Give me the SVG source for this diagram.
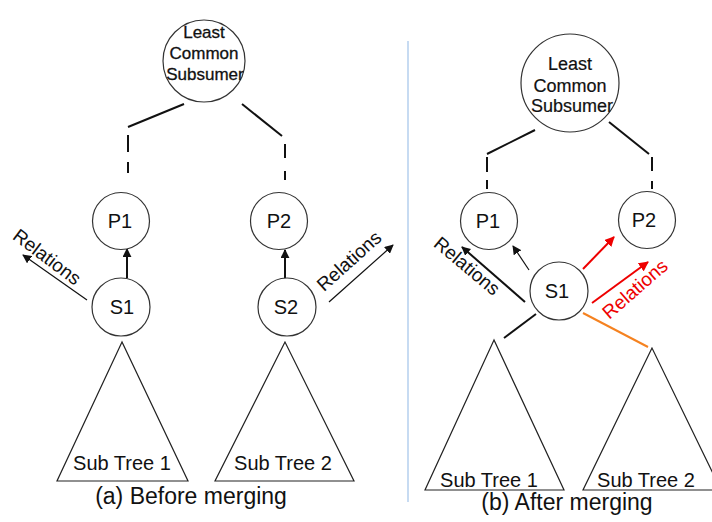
<svg xmlns="http://www.w3.org/2000/svg" width="712" height="522" viewBox="0 0 712 522">
<style>
  .node { fill: #fff; stroke: #333; stroke-width: 1.2; }
  .tri { fill: #fff; stroke: #222; stroke-width: 1.2; }
  .lbl { font-family: "Liberation Sans", Arial, sans-serif; font-size: 20px; fill: #111; text-anchor: middle; }
  .lcs { font-family: "Liberation Sans", Arial, sans-serif; font-size: 17px; fill: #111; text-anchor: middle; stroke: #111; stroke-width: 0.3; }
  .rel { font-family: "Liberation Sans", Arial, sans-serif; font-size: 19px; fill: #111; text-anchor: middle; dominant-baseline: central; }
  .cap { font-family: "Liberation Sans", Arial, sans-serif; font-size: 23px; fill: #111; text-anchor: middle; }
  .link { stroke: #111; stroke-width: 2; fill: none; }
  .thin { stroke: #111; stroke-width: 1.2; fill: none; }
  .red { stroke: #ee0000; stroke-width: 2; fill: none; }
</style>
<defs>
  <marker id="ahL" viewBox="0 0 10 10" refX="9" refY="5" markerWidth="9" markerHeight="9" orient="auto" markerUnits="userSpaceOnUse">
    <path d="M0,0 L10,5 L0,10 z" fill="#111"/>
  </marker>
  <marker id="ahR" viewBox="0 0 10 10" refX="9" refY="5" markerWidth="10" markerHeight="10" orient="auto" markerUnits="userSpaceOnUse">
    <path d="M0,0 L10,5 L0,10 z" fill="#ee0000"/>
  </marker>
</defs>

<!-- divider -->
<line x1="408" y1="41" x2="408" y2="502" stroke="#b4cfee" stroke-width="1.5"/>

<g id="connectors">
  <!-- left panel -->
  <line class="link" x1="184" y1="104" x2="128" y2="127"/>
  <line class="link" x1="128" y1="135" x2="128" y2="152"/>
  <line class="link" x1="128" y1="162" x2="128" y2="173"/>
  <line class="link" x1="242" y1="104" x2="282" y2="136"/>
  <line class="link" x1="285" y1="144" x2="285" y2="158"/>
  <line class="link" x1="285" y1="171" x2="285" y2="180"/>
  <line class="link" x1="127" y1="278" x2="127" y2="249" marker-end="url(#ahL)"/>
  <line class="link" x1="285" y1="278" x2="285" y2="250" marker-end="url(#ahL)"/>
  <line class="thin" x1="87" y1="300" x2="23" y2="255" marker-end="url(#ahL)"/>
  <line class="thin" x1="329" y1="302" x2="393" y2="245" marker-end="url(#ahL)"/>

  <!-- right panel -->
  <line class="link" x1="535" y1="130" x2="487" y2="154"/>
  <line class="link" x1="487" y1="157" x2="487" y2="172"/>
  <line class="link" x1="487" y1="180" x2="487" y2="189"/>
  <line class="link" x1="609" y1="122" x2="649" y2="154"/>
  <line class="link" x1="652" y1="157" x2="652" y2="171"/>
  <line class="link" x1="652" y1="181" x2="652" y2="189"/>
  <line class="thin" x1="529" y1="270" x2="513" y2="246" marker-end="url(#ahL)"/>
  <line class="link" x1="525" y1="302" x2="462" y2="247" marker-end="url(#ahL)"/>
  <line class="link" x1="536" y1="314" x2="504" y2="338"/>
  <line class="red" x1="583" y1="269" x2="614" y2="237" marker-end="url(#ahR)"/>
  <line class="red" x1="592" y1="303" x2="648" y2="262" marker-end="url(#ahR)"/>
  <line x1="583" y1="313" x2="648" y2="347" stroke="#f58220" stroke-width="2"/>
</g>

<!-- left panel nodes -->
<g id="lcs-a">
  <circle class="node" cx="204" cy="61" r="41"/>
  <text class="lcs" x="204" y="38">Least</text>
  <text class="lcs" x="204" y="59">Common</text>
  <text class="lcs" x="205" y="80">Subsumer</text>
</g>
<g id="p1-a">
  <circle class="node" cx="121" cy="221" r="28.5"/>
  <text class="lbl" x="120" y="228">P1</text>
</g>
<g id="p2-a">
  <circle class="node" cx="279" cy="221" r="28.5"/>
  <text class="lbl" x="279" y="228">P2</text>
</g>
<g id="s1-a">
  <circle class="node" cx="121" cy="307" r="29"/>
  <text class="lbl" x="122" y="314">S1</text>
</g>
<g id="s2-a">
  <circle class="node" cx="287" cy="307" r="29"/>
  <text class="lbl" x="286" y="314">S2</text>
</g>
<g id="subtree1-a">
  <polygon class="tri" points="122,342 57,481 188,481"/>
  <text class="lbl" x="122" y="470">Sub Tree 1</text>
</g>
<g id="subtree2-a">
  <polygon class="tri" points="285,342 215,481 354,481"/>
  <text class="lbl" x="283" y="470">Sub Tree 2</text>
</g>
<text class="rel" transform="translate(47,257) rotate(37)">Relations</text>
<text class="rel" transform="translate(349,261) rotate(-42)">Relations</text>
<text class="cap" x="191" y="504">(a) Before merging</text>

<!-- right panel nodes -->
<g id="lcs-b">
  <circle class="node" cx="570" cy="83" r="49"/>
  <text class="lcs" x="570" y="70" style="font-size:18px;stroke-width:0.2">Least</text>
  <text class="lcs" x="570" y="92" style="font-size:18px;stroke-width:0.2">Common</text>
  <text class="lcs" x="572" y="112" style="font-size:18px;stroke-width:0.2">Subsumer</text>
</g>
<g id="p1-b">
  <circle class="node" cx="489" cy="221" r="28.5"/>
  <text class="lbl" x="488" y="228">P1</text>
</g>
<g id="p2-b">
  <circle class="node" cx="647" cy="220" r="28.5"/>
  <text class="lbl" x="644" y="227">P2</text>
</g>
<g id="s1-b">
  <circle class="node" cx="559" cy="291" r="29"/>
  <text class="lbl" x="557" y="298">S1</text>
</g>
<g id="subtree1-b">
  <polygon class="tri" points="494,340 425,490 564,490"/>
  <text class="lbl" x="489" y="487">Sub Tree 1</text>
</g>
<g id="subtree2-b">
  <polygon class="tri" points="652,348 583,490 721,490"/>
  <text class="lbl" x="646" y="487">Sub Tree 2</text>
</g>
<text class="rel" transform="translate(467,266) rotate(40)">Relations</text>
<text class="rel" transform="translate(635,289) rotate(-41)" style="fill:#ee0000">Relations</text>
<text class="cap" x="567" y="510">(b) After merging</text>
</svg>
